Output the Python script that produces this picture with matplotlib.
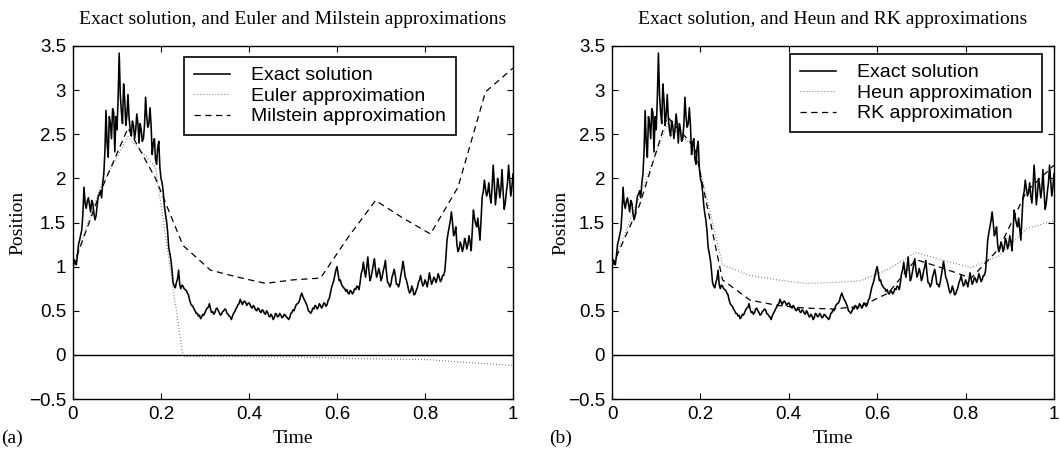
import numpy as np
import matplotlib
matplotlib.use("Agg")
import matplotlib.pyplot as plt
from matplotlib.ticker import FuncFormatter, FixedLocator

# ---------------- data ----------------
# exact path read at t = 0, 0.005, ..., 1
exact = [
    1.00, 1.06, 1.12, 1.30, 1.42, 1.90, 1.66, 1.78, 1.62, 1.72,
    1.53, 1.70, 1.82, 1.78, 2.05, 2.77, 2.24, 2.62, 2.79, 2.30,
    2.55, 3.42, 2.75, 3.07, 2.60, 2.95, 2.55, 2.65, 2.45, 2.73,
    2.40, 2.55, 2.45, 2.92, 2.58, 2.80, 2.27, 2.45, 2.16, 2.42,
    2.00, 1.85, 1.60, 1.40, 1.15, 0.96, 0.78, 0.82, 0.96, 0.75,
    0.78, 0.74, 0.70, 0.62, 0.56, 0.52, 0.47, 0.44, 0.41, 0.46,
    0.48, 0.53, 0.58, 0.48, 0.46, 0.52, 0.50, 0.45, 0.49, 0.52,
    0.47, 0.44, 0.40, 0.47, 0.52, 0.57, 0.63, 0.57, 0.61, 0.56,
    0.59, 0.54, 0.56, 0.51, 0.53, 0.49, 0.51, 0.47, 0.50, 0.44,
    0.46, 0.40, 0.47, 0.43, 0.47, 0.42, 0.46, 0.43, 0.40, 0.47,
    0.51, 0.54, 0.58, 0.62, 0.70, 0.63, 0.58, 0.50, 0.47, 0.53,
    0.56, 0.52, 0.58, 0.53, 0.59, 0.55, 0.62, 0.70, 0.80, 0.90,
    1.00, 0.84, 0.80, 0.76, 0.72, 0.70, 0.73, 0.69, 0.75, 0.78,
    0.74, 0.92, 1.05, 0.88, 1.11, 0.84, 0.95, 1.09, 0.88, 0.98,
    0.84, 0.95, 1.07, 0.82, 0.77, 0.88, 0.97, 0.80, 0.77, 0.90,
    1.06, 0.88, 0.80, 0.70, 0.78, 0.68, 0.73, 0.82, 0.90, 0.78,
    0.85, 0.77, 0.93, 0.80, 0.88, 0.82, 0.92, 0.83, 0.90, 0.95,
    1.30, 1.45, 1.62, 1.35, 1.45, 1.17, 1.28, 1.17, 1.32, 1.20,
    1.35, 1.18, 1.64, 1.49, 1.55, 1.30, 1.79, 1.98, 1.80, 1.95,
    1.72, 2.15, 1.70, 2.00, 1.78, 2.10, 1.65, 1.85, 2.15, 1.80,
    2.05,
]
# exact path read at t = 0.0025, 0.0075, ..., 0.9975
exact_mid = [
    1.08, 1.02, 1.25, 1.36, 1.60, 1.72, 1.74, 1.70, 1.75, 1.60,
    1.58, 1.80, 1.86, 1.95, 2.30, 2.40, 2.70, 2.45, 2.75, 2.70,
    2.90, 2.95, 2.62, 2.90, 2.72, 2.68, 2.48, 2.60, 2.55, 2.62,
    2.62, 2.42, 2.60, 2.70, 2.62, 2.60, 2.40, 2.22, 2.35, 2.12,
    1.95, 1.70, 1.52, 1.22, 1.08, 0.82, 0.76, 0.86, 0.80, 0.79,
    0.75, 0.73, 0.68, 0.58, 0.55, 0.50, 0.47, 0.45, 0.43, 0.45,
    0.51, 0.54, 0.52, 0.49, 0.48, 0.53, 0.48, 0.46, 0.50, 0.51,
    0.46, 0.43, 0.44, 0.49, 0.54, 0.58, 0.60, 0.60, 0.59, 0.58,
    0.57, 0.53, 0.54, 0.50, 0.52, 0.48, 0.50, 0.46, 0.48, 0.43,
    0.44, 0.42, 0.46, 0.44, 0.45, 0.43, 0.45, 0.42, 0.42, 0.48,
    0.50, 0.57, 0.59, 0.67, 0.66, 0.61, 0.55, 0.49, 0.49, 0.52,
    0.55, 0.54, 0.56, 0.55, 0.58, 0.57, 0.64, 0.76, 0.84, 0.96,
    0.92, 0.85, 0.78, 0.75, 0.74, 0.69, 0.72, 0.71, 0.74, 0.77,
    0.82, 0.96, 0.95, 1.00, 0.96, 0.88, 1.02, 0.97, 0.92, 0.93,
    0.88, 1.00, 0.93, 0.81, 0.80, 0.92, 0.90, 0.80, 0.82, 0.97,
    0.98, 0.85, 0.74, 0.72, 0.74, 0.69, 0.76, 0.85, 0.83, 0.80,
    0.82, 0.84, 0.86, 0.83, 0.86, 0.86, 0.88, 0.85, 0.90, 1.10,
    1.38, 1.52, 1.50, 1.38, 1.25, 1.20, 1.24, 1.22, 1.28, 1.25,
    1.28, 1.42, 1.55, 1.45, 1.42, 1.55, 1.85, 1.88, 1.84, 1.80,
    1.90, 1.95, 1.82, 1.92, 1.88, 1.85, 1.72, 1.95, 1.98, 1.90,
]

t_approx = np.linspace(0, 1, 17)
euler = [1.00, 1.90, 2.47, 2.13, -0.02, -0.02, -0.02, -0.025, -0.025,
         -0.03, -0.04, -0.045, -0.05, -0.055, -0.08, -0.10, -0.12]
milstein = [1.00, 1.85, 2.57, 2.00, 1.24, 0.96, 0.88, 0.81, 0.85,
            0.87, 1.33, 1.75, 1.55, 1.37, 1.90, 2.98, 3.25]
heun = [1.00, 1.80, 2.62, 2.35, 1.02, 0.90, 0.85, 0.81, 0.82,
        0.84, 0.97, 1.16, 1.07, 0.99, 1.12, 1.43, 1.52]
rk = [1.00, 1.70, 2.70, 2.35, 0.85, 0.62, 0.56, 0.53, 0.52,
      0.55, 0.70, 1.08, 0.98, 0.87, 1.20, 1.85, 2.15]

x_ticks = [0, 0.2, 0.4, 0.6, 0.8, 1]
y_ticks = [-0.5, 0, 0.5, 1, 1.5, 2, 2.5, 3, 3.5]

titles = ["Exact solution, and Euler and Milstein approximations",
          "Exact solution, and Heun and RK approximations"]
legend_a = ["Exact solution", "Euler approximation", "Milstein approximation"]
legend_b = ["Exact solution", "Heun approximation", "RK approximation"]
panel_tags = ["(a)", "(b)"]

# merge the two read-off sets into one path
path = np.empty(len(exact) + len(exact_mid))
path[0::2] = exact
path[1::2] = exact_mid
t_exact = np.linspace(0, 1, len(path))

# ---------------- style ----------------
SERIF = "Liberation Serif"
SANS = "Liberation Sans"
W, H = 1060, 450

fig = plt.figure(figsize=(W / 100, H / 100), dpi=100)

def fmt(v, pos):
    s = "%g" % v
    return s.replace("-", "\u2212")

dotted = (0, (0.7, 2.0))
dashed = (0, (5.0, 3.6))

def make_panel(left_px, width_px, title, approx1, approx2, labels, leg_xy,
               tag, tag_x, ylab_right):
    ax = fig.add_axes([left_px / W, 1 - 399 / H, width_px / W, 353 / H])
    ax.axhline(0, color="black", lw=1.0, zorder=1)
    l1, = ax.plot(t_exact, path, color="black", lw=1.15, zorder=3)
    l2, = ax.plot(t_approx, approx1, color="0.35", lw=0.8, linestyle=dotted, zorder=2)
    l3, = ax.plot(t_approx, approx2, color="black", lw=0.9, linestyle=dashed, zorder=2)
    ax.set_xlim(0, 1)
    ax.set_ylim(-0.5, 3.5)
    ax.xaxis.set_major_locator(FixedLocator(x_ticks))
    ax.yaxis.set_major_locator(FixedLocator(y_ticks))
    ax.xaxis.set_major_formatter(FuncFormatter(fmt))
    ax.yaxis.set_major_formatter(FuncFormatter(fmt))
    ax.tick_params(direction="in", length=4, width=0.8, top=True, right=True,
                   labelsize=13.5, pad=5)
    for lab in ax.get_xticklabels() + ax.get_yticklabels():
        lab.set_family(SANS)
    for sp in ax.spines.values():
        sp.set_linewidth(1.0)
    ax.set_xlabel("Time", family=SERIF, fontsize=14)
    ax.set_ylabel("Position", family=SERIF, fontsize=14)
    ax.xaxis.set_label_coords(0.5, (399 - 430) / 353)
    ax.yaxis.set_label_coords((ylab_right - left_px) / width_px, 0.5)
    fig.text((left_px + width_px / 2) / W, 1 - 20 / H, title, family=SERIF,
             fontsize=14, ha="center", va="center")
    fig.text(tag_x / W, 1 - 438 / H, tag, family=SERIF, fontsize=14,
             ha="left", va="center")
    leg = ax.legend([l1, l2, l3], labels, loc="upper left",
                    bbox_to_anchor=((leg_xy[0] - left_px) / width_px,
                                    (399 - leg_xy[1]) / 353),
                    borderaxespad=0, fancybox=False, framealpha=1,
                    edgecolor="black", handlelength=1.85, handletextpad=1.1,
                    labelspacing=0.15, borderpad=0.5,
                    prop={"family": SANS, "size": 14})
    leg.get_frame().set_linewidth(1.2)
    return ax

make_panel(73, 440, titles[0], euler, milstein, legend_a, (184, 57),
           panel_tags[0], 1, 26)
make_panel(612, 442, titles[1], heun, rk, legend_b, (790, 54),
           panel_tags[1], 549, 569)

fig.savefig("out.png", dpi=100)
